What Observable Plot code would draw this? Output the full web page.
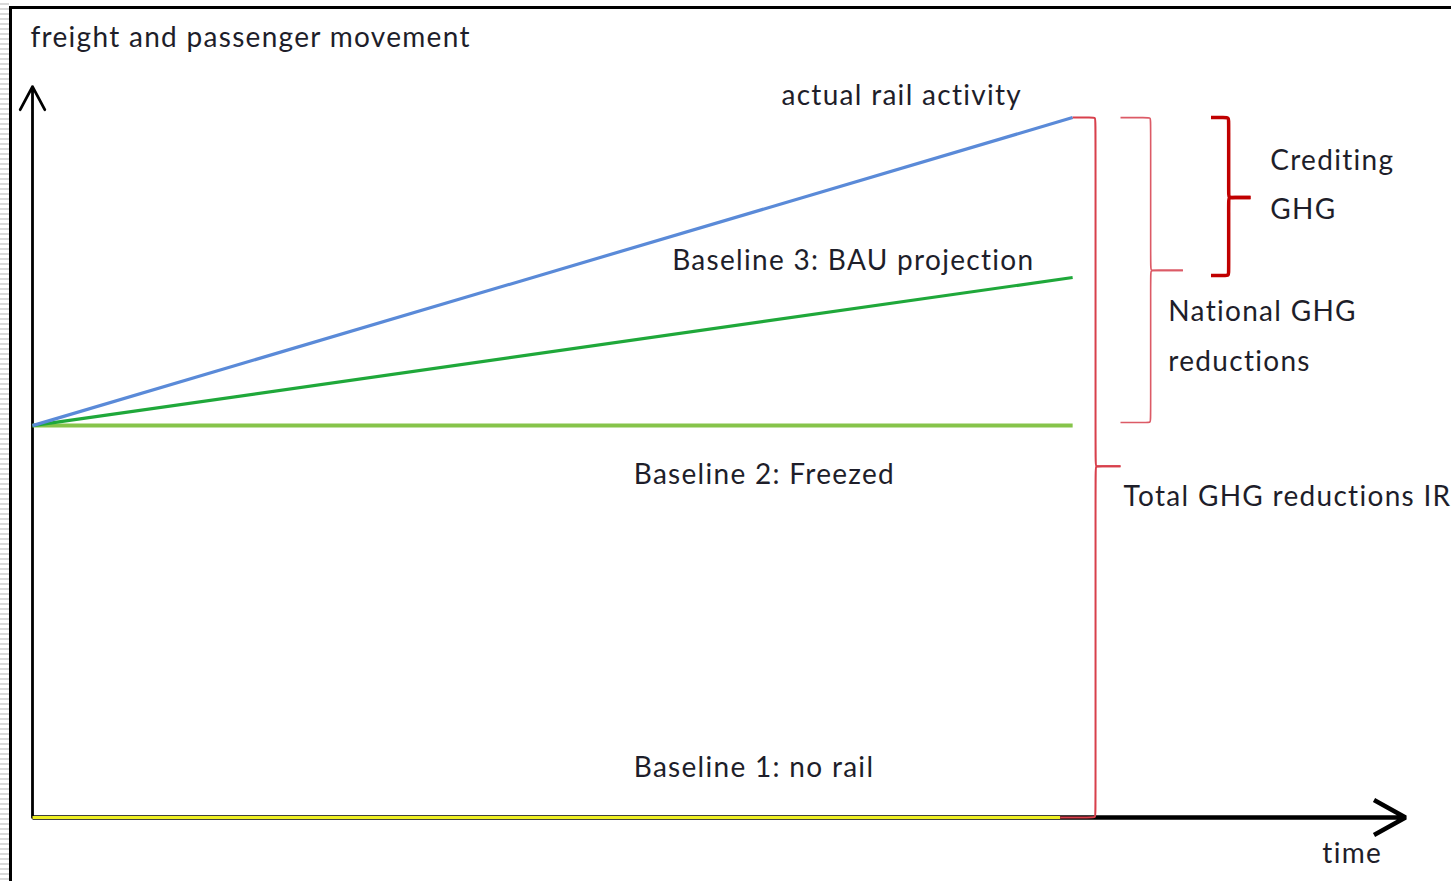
<!DOCTYPE html>
<html><head><meta charset="utf-8">
<script src="https://cdn.jsdelivr.net/npm/d3@7"></script>
<script src="https://cdn.jsdelivr.net/npm/@observablehq/plot@0.6"></script>
<style>
html,body{margin:0;padding:0;background:#fff;}
#wrap{position:relative;width:1451px;height:881px;overflow:hidden;}
#stripes{position:absolute;left:0;top:0;width:9px;height:881px;background:repeating-linear-gradient(to bottom,#fff 0,#fff 3px,#d9d9d9 3px,#d9d9d9 5px);}
#frame{position:absolute;left:9px;top:6px;width:1500px;height:900px;border-left:3px solid #000;border-top:3px solid #000;pointer-events:none;}
#chart{position:absolute;left:0;top:0;}
</style></head><body>
<div id="wrap"><div id="stripes"></div><div id="chart"></div><div id="frame"></div></div>
<script>
// ---- data ----
const seriesNames = ["Baseline 1: no rail", "Baseline 2: Freezed", "Baseline 3: BAU projection", "actual rail activity"];
const seriesStartTime = [0, 0, 0, 0];
const seriesEndTime = [9.88, 10, 10, 10];
const seriesStartValue = [0, 100, 100, 100];
const seriesEndValue = [0, 100, 137.8, 178.6];

const labelTexts = ["freight and passenger movement", "actual rail activity", "Baseline 3: BAU projection",
  "Baseline 2: Freezed", "Baseline 1: no rail", "Crediting", "GHG", "National GHG", "reductions",
  "Total GHG reductions IR", "time"];
const labelTime = [-0.02, 7.2, 6.15, 5.78, 5.78, 11.9, 11.9, 10.92, 10.92, 10.49, 12.4];
const labelValue = [199, 184, 141.9, 87.5, 12.5, 167.6, 154.9, 128.9, 116.1, 81.9, -9.2];

const braceNames = ["Total GHG reductions IR", "National GHG reductions", "Crediting GHG"];
const braceSpine = [10.22, 10.75, 11.5];
const braceTopEnd = [10.0, 10.46, 11.33];
const braceBottomEnd = [9.88, 10.46, 11.33];
const braceTip = [10.46, 11.06, 11.71];
const braceTop = [178.6, 178.6, 178.6];
const braceBottom = [0, 100.8, 138.3];
const braceMid = [89.6, 139.6, 158.2];

const axisTimeEnd = 13.2;
const axisValueEnd = 186.5;

// ---- styles ----
const seriesColors = {"Baseline 1: no rail": "#eeee22", "Baseline 2: Freezed": "#86c44a",
  "Baseline 3: BAU projection": "#1fa83a", "actual rail activity": "#5a8ad8"};
const seriesWidths = {"Baseline 1: no rail": 3, "Baseline 2: Freezed": 4,
  "Baseline 3: BAU projection": 3.2, "actual rail activity": 3.2};
const braceStyles = [
  {stroke: "#d8404c", width: 2},
  {stroke: "#dc5a66", width: 1.6},
  {stroke: "#c00000", width: 3.5}
];
const FONT = "Lato, 'Open Sans', sans-serif";
const TEXT_COLOR = "#1e1e2a";

// ---- tables ----
const segments = [];
seriesNames.forEach((name, i) => {
  segments.push({name, t: seriesStartTime[i], v: seriesStartValue[i]});
  segments.push({name, t: seriesEndTime[i], v: seriesEndValue[i]});
});
const labels = labelTexts.map((text, i) => ({text, t: labelTime[i], v: labelValue[i]}));

const rx = 0.04, ry = 1.0;
function bracePoints(i) {
  const x = braceSpine[i], top = braceTop[i], bot = braceBottom[i], mid = braceMid[i], tip = braceTip[i];
  const upper = [[braceTopEnd[i], top], [x - rx, top], [x, top], [x, top - ry], [x, mid + ry], [x, mid], [x + rx, mid], [tip, mid]];
  const lower = [[tip, mid], [x + rx, mid], [x, mid], [x, mid - ry], [x, bot + ry], [x, bot], [x - rx, bot], [braceBottomEnd[i], bot]];
  return [
    ...upper.map(([t, v]) => ({part: "upper", t, v})),
    ...lower.map(([t, v]) => ({part: "lower", t, v}))
  ];
}

const marks = [];
// axes
marks.push(Plot.arrow([{}], {x1: 0, y1: 0, x2: axisTimeEnd, y2: 0, stroke: "#000", strokeWidth: 4.5, headAngle: 58, headLength: 12, strokeLinecap: "butt"}));
marks.push(Plot.arrow([{}], {x1: 0, y1: 0, x2: 0, y2: axisValueEnd, stroke: "#000", strokeWidth: 2.8, headAngle: 56, headLength: 14}));
// series
seriesNames.forEach(name => {
  marks.push(Plot.line(segments.filter(d => d.name === name), {x: "t", y: "v", stroke: seriesColors[name], strokeWidth: seriesWidths[name], strokeLinecap: "butt"}));
});
// braces
braceNames.forEach((name, i) => {
  marks.push(Plot.line(bracePoints(i), {x: "t", y: "v", z: "part", curve: "basis", stroke: braceStyles[i].stroke, strokeWidth: braceStyles[i].width, strokeLinecap: "butt"}));
});
// labels
marks.push(Plot.text(labels, {x: "t", y: "v", text: "text", textAnchor: "start", lineAnchor: "middle", fill: TEXT_COLOR, fontSize: 28}));

const chart = Plot.plot({
  width: 1451, height: 881,
  marginLeft: 32, marginRight: 46, marginTop: 92, marginBottom: 64,
  x: {domain: [0, 13.2], axis: null},
  y: {domain: [0, 185], axis: null},
  style: {fontFamily: FONT, background: "transparent", overflow: "visible", letterSpacing: "1.3px"},
  marks
});
document.getElementById("chart").appendChild(chart);
</script>
</body></html>
